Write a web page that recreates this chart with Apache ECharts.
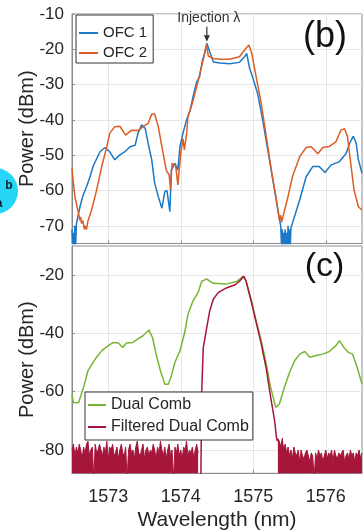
<!DOCTYPE html>
<html><head><meta charset="utf-8">
<script src="https://cdn.jsdelivr.net/npm/echarts@6/dist/echarts.min.js"></script>
<style>html,body{margin:0;padding:0;background:#fff}#c{width:363px;height:532px}</style>
</head><body><div id="c"></div>
<script>
// ---------- tick labels ----------
const xTicks = [1573, 1574, 1575, 1576];
const yTicksB = [-70, -60, -50, -40, -30, -20, -10];
const yTicksC = [-80, -60, -40, -20];

// ---------- panel (b): OFC 1 ----------
const ofc1Wl = [1572.50,1572.51,1572.52,1572.53,1572.54,1572.55,1572.56,1572.58,1572.61,1572.65,1572.70,1572.75,1572.79,1572.84,1572.886,1572.955,1573.02,1573.09,1573.16,1573.23,1573.30,1573.37,1573.41,1573.46,1573.51,1573.55,1573.60,1573.64,1573.69,1573.74,1573.78,1573.81,1573.85,1573.87,1573.92,1573.96,1573.99,1574.03,1574.08,1574.13,1574.17,1574.22,1574.26,1574.30,1574.33,1574.36,1574.40,1574.45,1574.54,1574.67,1574.81,1574.88,1574.91,1574.95,1574.99,1575.06,1575.13,1575.20,1575.27,1575.34,1575.38,1575.39,1575.40,1575.41,1575.42,1575.43,1575.44,1575.45,1575.46,1575.47,1575.48,1575.49,1575.50,1575.51,1575.52,1575.54,1575.64,1575.73,1575.82,1575.91,1575.99,1576.07,1576.19,1576.28,1576.33,1576.38,1576.42,1576.45,1576.50];
const ofc1P = [-71,-76,-72,-76,-70,-76,-69.5,-67.5,-64.6,-61.5,-58.9,-56,-53.2,-51,-49.0,-47.8,-49.0,-51.3,-49.9,-49.0,-47.6,-47.2,-43.8,-41.4,-42.4,-46.6,-51.3,-57.9,-61.7,-65.0,-60.3,-60.0,-66.0,-54.2,-52.3,-54.2,-47.4,-43.8,-40.0,-37.2,-33.4,-29.2,-27.8,-23.0,-21.2,-18.3,-20.7,-23.6,-23.9,-24.1,-23.7,-22.1,-21.2,-25.4,-27.8,-32.5,-40.0,-48.5,-57.0,-65.5,-70.2,-76,-71,-76,-72,-76,-71,-76,-72,-76,-70,-76,-71,-76,-70.5,-69.3,-62.7,-56.1,-53.2,-53.2,-54.9,-52.8,-51.8,-49.5,-46.6,-44.6,-46.6,-51.3,-55.1];

// ---------- panel (b): OFC 2 ----------
const ofc2Wl = [1572.50,1572.51,1572.54,1572.59,1572.61,1572.62,1572.63,1572.65,1572.67,1572.68,1572.70,1572.72,1572.77,1572.84,1572.91,1572.98,1573.02,1573.09,1573.16,1573.24,1573.32,1573.41,1573.48,1573.55,1573.60,1573.64,1573.69,1573.74,1573.80,1573.84,1573.86,1573.88,1573.93,1573.96,1574.00,1574.03,1574.05,1574.08,1574.10,1574.16,1574.22,1574.27,1574.31,1574.355,1574.38,1574.45,1574.54,1574.67,1574.81,1574.90,1574.94,1574.98,1575.04,1575.11,1575.18,1575.25,1575.32,1575.36,1575.38,1575.39,1575.41,1575.48,1575.54,1575.64,1575.73,1575.80,1575.89,1575.96,1576.05,1576.14,1576.21,1576.26,1576.30,1576.35,1576.39,1576.45,1576.50];
const ofc2P = [-53.7,-56.1,-61.7,-66.5,-68.5,-67.5,-69.3,-68.5,-71,-70,-71,-68.6,-65.5,-59.8,-53.2,-47.6,-43.8,-41.9,-41.8,-44.3,-42.9,-43.0,-41.9,-41.0,-38.3,-38.3,-41.9,-47.6,-54.2,-55.6,-59.8,-52.3,-53,-58.4,-49.5,-45.3,-48.5,-44,-39.1,-35.3,-30.6,-26.3,-23.0,-18.6,-21.9,-22.6,-22.8,-22.8,-22.1,-19.7,-18.8,-21.2,-27.8,-35.3,-44.7,-54.2,-62.7,-68.3,-67,-69,-67.4,-61.7,-56.1,-50.4,-47.8,-47.6,-49.6,-47.8,-47.5,-46.2,-42.9,-42.5,-44.8,-53.2,-59.8,-64.6,-65.5];

// injection marker (wavelength, power)
const injection = [1574.36, -18.3];

// ---------- panel (c): Dual Comb ----------
const dualWl = [1572.50,1572.52,1572.59,1572.66,1572.72,1572.82,1572.91,1573.00,1573.07,1573.14,1573.20,1573.25,1573.34,1573.41,1573.48,1573.56,1573.61,1573.67,1573.72,1573.78,1573.83,1573.87,1573.92,1573.99,1574.06,1574.10,1574.17,1574.24,1574.29,1574.36,1574.40,1574.45,1574.63,1574.77,1574.86,1574.90,1574.975,1575.04,1575.11,1575.18,1575.24,1575.31,1575.36,1575.43,1575.50,1575.57,1575.64,1575.71,1575.78,1575.87,1575.96,1576.05,1576.14,1576.19,1576.25,1576.31,1576.37,1576.44,1576.50];
const dualP = [-61,-63.7,-63.8,-58.5,-52.8,-48.8,-45.9,-44.2,-43.1,-43.3,-44.8,-43.3,-43.1,-41.9,-40.8,-38.8,-41.4,-48.2,-52.8,-57.4,-57.4,-54.5,-49.9,-45.9,-39.1,-33.3,-28.8,-25.9,-22.1,-21.3,-22.1,-22.8,-23.0,-22.2,-20.4,-21.9,-28.8,-35.6,-42.5,-50.5,-58.5,-65.4,-64.2,-58.5,-53.4,-49.4,-47.1,-46.2,-48.2,-47.6,-47.1,-46.2,-44.2,-42.5,-44.8,-46.5,-47.1,-52.2,-57.4];

// ---------- panel (c): Filtered Dual Comb (passband) ----------
const filtWl = [1574.275,1574.29,1574.31,1574.355,1574.40,1574.45,1574.52,1574.63,1574.75,1574.81,1574.87,1574.90,1574.975,1575.04,1575.11,1575.18,1575.24,1575.295,1575.32,1575.335];
const filtP = [-95,-59.7,-45,-38.5,-32.2,-28.2,-25.9,-24.4,-23.3,-22.1,-20.4,-22,-29.3,-36.2,-43.6,-52.2,-61.9,-70,-75.7,-77];

// ---------- panel (c): Filtered Dual Comb noise floor (sampled every 0.02 nm) ----------
const noiseStep = 0.02;
const noiseLeftStart = 1572.50;
const noiseLeftP = [-80,-78,-82,-79,-81,-78,-80,-83,-79,-81,-78,-77,-82,-80,-79,-90,-78,-81,-80,-78,
  -80,-82,-79,-81,-77,-83,-79,-80,-78,-82,-81,-79,-83,-80,-78,-81,-82,-79,-90,-80,
  -78,-81,-80,-83,-79,-77,-81,-82,-80,-78,-83,-80,-79,-82,-80,-81,-78,-80,-83,-79,
  -81,-77,-80,-82,-79,-83,-80,-78,-82,-80,-90,-79,-81,-78,-82,-80,-83,-79,-80,-77,
  -82,-80,-81,-79,-83,-80,-78,-81];
const noiseRightStart = 1575.34;
const noiseRightP = [-76,-77,-79,-76,-80,-78,-81,-79,-82,-80,-83,-79,-81,-82,-80,-84,-80,-82,-83,-81,
  -80,-82,-84,-81,-82,-90,-81,-83,-80,-82,-81,-84,-82,-80,-83,-81,-82,-80,-84,-80,
  -82,-83,-81,-82,-81,-80,-84,-82,-81,-83,-80,-82,-81,-84,-81,-82,-80,-83,-81];

const FONT = "'Liberation Sans', Arial, Helvetica, sans-serif";
const TXT = '#262626';
const AX = '#8c8c8c';
const GRIDC = '#e6e6e6';
const C_BLUE = '#1a78c6', C_ORANGE = '#dc5d26', C_GREEN = '#78b534', C_RED = '#a5163a';

const pairs = (xs, ys) => xs.map((x, i) => [x, ys[i]]);
const noisePairs = (start, ys) => ys.map((y, i) => [+(start + i * noiseStep).toFixed(3), y]);

function xAxis(gridIndex, showLabels) {
  return {
    type: 'value', gridIndex, min: 1572.5, max: 1576.5,
    name: showLabels ? 'Wavelength (nm)' : '', nameLocation: 'middle', nameGap: 36, nameMoveOverlap: false,
    nameTextStyle: { fontSize: 21, color: TXT, fontFamily: FONT },
    axisLine: { show: true, lineStyle: { color: AX, width: 1 } },
    axisTick: { show: true, inside: true, length: 3, lineStyle: { color: AX }, customValues: xTicks },
    axisLabel: { show: showLabels, customValues: xTicks, formatter: v => String(v), fontSize: 18, color: TXT, fontFamily: FONT, margin: 15 },
    splitLine: { show: true, lineStyle: { color: GRIDC, width: 1 } }
  };
}
function yAxis(gridIndex, min, ticks) {
  return {
    type: 'value', gridIndex, min, max: -10,
    name: 'Power (dBm)', nameLocation: 'middle', nameGap: 35, nameMoveOverlap: false,
    nameTextStyle: { fontSize: 20, color: TXT, fontFamily: FONT },
    axisLine: { show: true, lineStyle: { color: AX, width: 1 } },
    axisTick: { show: true, inside: true, length: 3, lineStyle: { color: AX }, customValues: ticks },
    axisLabel: { customValues: ticks, formatter: v => String(v), fontSize: 17, color: TXT, fontFamily: FONT, margin: 8 },
    splitLine: { show: true, lineStyle: { color: GRIDC, width: 1 } }
  };
}

const chart = echarts.init(document.getElementById('c'), null, { renderer: 'canvas' });
chart.setOption({
  animation: false,
  backgroundColor: '#fff',
  grid: [
    { left: 72, top: 14, width: 290, height: 229.5, show: true, borderColor: AX, borderWidth: 1, backgroundColor: 'transparent' },
    { left: 72, top: 246, width: 290, height: 227.3, show: true, borderColor: AX, borderWidth: 1, backgroundColor: 'transparent' }
  ],
  xAxis: [xAxis(0, false), xAxis(1, true)],
  yAxis: [yAxis(0, -75, yTicksB), yAxis(1, -88, yTicksC)],
  legend: [
    { data: ['OFC 1', 'OFC 2'], orient: 'vertical', left: 76, top: 15, padding: [8, 6, 0, 3],
      itemWidth: 19, itemHeight: 2, itemGap: 0, icon: 'rect',
      textStyle: { fontSize: 15, lineHeight: 20, color: TXT, fontFamily: FONT },
      borderColor: '#333', borderWidth: 1, backgroundColor: '#fff', selectedMode: false },
    { data: ['Dual Comb', 'Filtered Dual Comb'], orient: 'vertical', left: 85, top: 392, padding: [2, 4, 2, 3],
      itemWidth: 18, itemHeight: 2, itemGap: 0, icon: 'rect',
      textStyle: { fontSize: 16, lineHeight: 22, color: TXT, fontFamily: FONT },
      borderColor: '#333', borderWidth: 1, backgroundColor: '#fff', selectedMode: false }
  ],
  series: [
    { name: 'OFC 1', type: 'line', xAxisIndex: 0, yAxisIndex: 0, data: pairs(ofc1Wl, ofc1P),
      showSymbol: false, symbol: 'none', clip: true, lineStyle: { color: C_BLUE, width: 1.5 }, itemStyle: { color: C_BLUE },
      markPoint: {
        silent: true,
        symbol: 'path://M4,0 L6,0 L6,9 L10,9 L5,16 L0,9 L4,9 Z',
        symbolSize: [6, 15], symbolOffset: [0, -9],
        itemStyle: { color: '#333' },
        label: { show: true, position: 'top', distance: 2, formatter: 'Injection λ', color: '#333', fontSize: 14, fontFamily: FONT, offset: [2, 0] },
        data: [{ coord: injection }]
      } },
    { name: 'OFC 2', type: 'line', xAxisIndex: 0, yAxisIndex: 0, data: pairs(ofc2Wl, ofc2P),
      showSymbol: false, symbol: 'none', clip: true, lineStyle: { color: C_ORANGE, width: 1.5 }, itemStyle: { color: C_ORANGE } },
    { name: 'Dual Comb', type: 'line', xAxisIndex: 1, yAxisIndex: 1, data: pairs(dualWl, dualP),
      showSymbol: false, symbol: 'none', clip: true, lineStyle: { color: C_GREEN, width: 1.5 }, itemStyle: { color: C_GREEN } },
    { name: 'Filtered Dual Comb', type: 'line', xAxisIndex: 1, yAxisIndex: 1, data: pairs(filtWl, filtP),
      showSymbol: false, symbol: 'none', clip: true, lineStyle: { color: C_RED, width: 1.5 }, itemStyle: { color: C_RED } },
    { name: 'Filtered Dual Comb', type: 'line', xAxisIndex: 1, yAxisIndex: 1, data: noisePairs(noiseLeftStart, noiseLeftP),
      showSymbol: false, symbol: 'none', clip: true, lineStyle: { color: C_RED, width: 1 }, itemStyle: { color: C_RED },
      areaStyle: { color: C_RED, opacity: 1, origin: 'start' } },
    { name: 'Filtered Dual Comb', type: 'line', xAxisIndex: 1, yAxisIndex: 1, data: noisePairs(noiseRightStart, noiseRightP),
      showSymbol: false, symbol: 'none', clip: true, lineStyle: { color: C_RED, width: 1 }, itemStyle: { color: C_RED },
      areaStyle: { color: C_RED, opacity: 1, origin: 'start' } }
  ],
  graphic: [
    { type: 'circle', shape: { cx: -5, cy: 191, r: 23 }, style: { fill: '#27d6f6' }, silent: true },
    { type: 'text', x: 9, y: 186, style: { text: 'b', fill: '#102030', font: 'bold 12px ' + FONT, align: 'center', verticalAlign: 'middle' }, silent: true },
    { type: 'text', x: -1, y: 204, style: { text: 'a', fill: '#102030', font: 'bold 12px ' + FONT, align: 'center', verticalAlign: 'middle' }, silent: true },
    { type: 'text', x: 325, y: 37, style: { text: '(b)', fill: '#111', font: '36px ' + FONT, align: 'center', verticalAlign: 'middle' }, silent: true, z: 100 },
    { type: 'text', x: 324.5, y: 267, style: { text: '(c)', fill: '#111', font: '34px ' + FONT, align: 'center', verticalAlign: 'middle' }, silent: true, z: 100 }
  ]
});
</script>
</body></html>
